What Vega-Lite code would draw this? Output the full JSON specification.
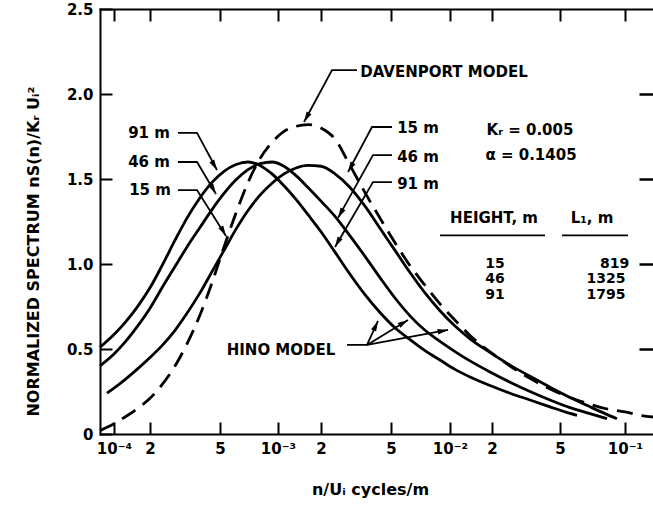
{
  "$schema": "https://vega.github.io/schema/vega-lite/v6.json",
  "width": 553,
  "height": 425,
  "autosize": {"type": "none"},
  "padding": {"left": 100, "top": 9, "right": 0, "bottom": 73},
  "background": "white",
  "config": {
    "view": {"stroke": null},
    "axis": {
      "grid": false, "domain": true, "domainColor": "black", "domainWidth": 2, "domainCap": "square",
      "tickColor": "black", "tickWidth": 2, "tickSize": -12,
      "labelFont": "DejaVu Sans", "labelFontWeight": "bold", "labelFontSize": 15, "labelColor": "black",
      "titleFont": "DejaVu Sans", "titleFontWeight": "bold", "titleFontSize": 16, "titleColor": "black",
      "labelOverlap": false, "labelFlush": false
    },
    "text": {"font": "DejaVu Sans", "fontWeight": "bold", "fontSize": 15, "fill": "black"}
  },
  "datasets": {
    "curves": [
      {"c": "91 m", "n": 8.45e-5, "s": 0.51}, {"c": "91 m", "n": 1e-4, "s": 0.585}, {"c": "91 m", "n": 1.236e-4, "s": 0.655}, {"c": "91 m", "n": 1.557e-4, "s": 0.745}, {"c": "91 m", "n": 2e-4, "s": 0.86}, {"c": "91 m", "n": 2.341e-4, "s": 0.99}, {"c": "91 m", "n": 2.775e-4, "s": 1.14}, {"c": "91 m", "n": 3.245e-4, "s": 1.27}, {"c": "91 m", "n": 3.848e-4, "s": 1.39}, {"c": "91 m", "n": 4.503e-4, "s": 1.48}, {"c": "91 m", "n": 5.245e-4, "s": 1.545}, {"c": "91 m", "n": 6.054e-4, "s": 1.585}, {"c": "91 m", "n": 6.989e-4, "s": 1.6}, {"c": "91 m", "n": 8.067e-4, "s": 1.58}, {"c": "91 m", "n": 9.308e-4, "s": 1.53}, {"c": "91 m", "n": 1.1015e-3, "s": 1.46}, {"c": "91 m", "n": 1.337e-3, "s": 1.38}, {"c": "91 m", "n": 1.622e-3, "s": 1.29}, {"c": "91 m", "n": 2e-3, "s": 1.19}, {"c": "91 m", "n": 2.403e-3, "s": 1.07}, {"c": "91 m", "n": 2.924e-3, "s": 0.94}, {"c": "91 m", "n": 3.557e-3, "s": 0.82}, {"c": "91 m", "n": 4.329e-3, "s": 0.715}, {"c": "91 m", "n": 5.241e-3, "s": 0.625}, {"c": "91 m", "n": 6.251e-3, "s": 0.555}, {"c": "91 m", "n": 7.455e-3, "s": 0.49}, {"c": "91 m", "n": 8.891e-3, "s": 0.435}, {"c": "91 m", "n": 1.086e-2, "s": 0.38}, {"c": "91 m", "n": 1.391e-2, "s": 0.335}, {"c": "91 m", "n": 1.935e-2, "s": 0.285}, {"c": "91 m", "n": 2.55e-2, "s": 0.24}, {"c": "91 m", "n": 3.337e-2, "s": 0.2}, {"c": "91 m", "n": 4.369e-2, "s": 0.16}, {"c": "91 m", "n": 5.274e-2, "s": 0.13}, {"c": "91 m", "n": 5.994e-2, "s": 0.11},
      {"c": "46 m", "n": 8.45e-5, "s": 0.4}, {"c": "46 m", "n": 1e-4, "s": 0.47}, {"c": "46 m", "n": 1.236e-4, "s": 0.54}, {"c": "46 m", "n": 1.557e-4, "s": 0.63}, {"c": "46 m", "n": 2e-4, "s": 0.74}, {"c": "46 m", "n": 2.341e-4, "s": 0.86}, {"c": "46 m", "n": 2.775e-4, "s": 0.985}, {"c": "46 m", "n": 3.245e-4, "s": 1.1}, {"c": "46 m", "n": 3.848e-4, "s": 1.215}, {"c": "46 m", "n": 4.503e-4, "s": 1.32}, {"c": "46 m", "n": 5.245e-4, "s": 1.415}, {"c": "46 m", "n": 6.054e-4, "s": 1.495}, {"c": "46 m", "n": 6.989e-4, "s": 1.555}, {"c": "46 m", "n": 8.067e-4, "s": 1.59}, {"c": "46 m", "n": 9.308e-4, "s": 1.6}, {"c": "46 m", "n": 1.1015e-3, "s": 1.575}, {"c": "46 m", "n": 1.337e-3, "s": 1.52}, {"c": "46 m", "n": 1.622e-3, "s": 1.45}, {"c": "46 m", "n": 2e-3, "s": 1.37}, {"c": "46 m", "n": 2.403e-3, "s": 1.28}, {"c": "46 m", "n": 2.924e-3, "s": 1.165}, {"c": "46 m", "n": 3.557e-3, "s": 1.045}, {"c": "46 m", "n": 4.329e-3, "s": 0.92}, {"c": "46 m", "n": 5.241e-3, "s": 0.8}, {"c": "46 m", "n": 6.251e-3, "s": 0.695}, {"c": "46 m", "n": 7.455e-3, "s": 0.61}, {"c": "46 m", "n": 8.891e-3, "s": 0.545}, {"c": "46 m", "n": 1.086e-2, "s": 0.485}, {"c": "46 m", "n": 1.391e-2, "s": 0.43}, {"c": "46 m", "n": 1.935e-2, "s": 0.365}, {"c": "46 m", "n": 2.55e-2, "s": 0.305}, {"c": "46 m", "n": 3.337e-2, "s": 0.25}, {"c": "46 m", "n": 4.369e-2, "s": 0.2}, {"c": "46 m", "n": 5.563e-2, "s": 0.155}, {"c": "46 m", "n": 6.885e-2, "s": 0.12}, {"c": "46 m", "n": 8.256e-2, "s": 0.09},
      {"c": "15 m", "n": 9.19e-5, "s": 0.24}, {"c": "15 m", "n": 1e-4, "s": 0.27}, {"c": "15 m", "n": 1.236e-4, "s": 0.32}, {"c": "15 m", "n": 1.557e-4, "s": 0.38}, {"c": "15 m", "n": 2e-4, "s": 0.45}, {"c": "15 m", "n": 2.341e-4, "s": 0.52}, {"c": "15 m", "n": 2.775e-4, "s": 0.61}, {"c": "15 m", "n": 3.245e-4, "s": 0.71}, {"c": "15 m", "n": 3.848e-4, "s": 0.83}, {"c": "15 m", "n": 4.503e-4, "s": 0.955}, {"c": "15 m", "n": 5.245e-4, "s": 1.08}, {"c": "15 m", "n": 6.054e-4, "s": 1.205}, {"c": "15 m", "n": 6.989e-4, "s": 1.315}, {"c": "15 m", "n": 8.067e-4, "s": 1.405}, {"c": "15 m", "n": 9.308e-4, "s": 1.475}, {"c": "15 m", "n": 1.1015e-3, "s": 1.53}, {"c": "15 m", "n": 1.337e-3, "s": 1.565}, {"c": "15 m", "n": 1.622e-3, "s": 1.58}, {"c": "15 m", "n": 2e-3, "s": 1.575}, {"c": "15 m", "n": 2.403e-3, "s": 1.53}, {"c": "15 m", "n": 2.924e-3, "s": 1.45}, {"c": "15 m", "n": 3.557e-3, "s": 1.34}, {"c": "15 m", "n": 4.329e-3, "s": 1.21}, {"c": "15 m", "n": 5.241e-3, "s": 1.08}, {"c": "15 m", "n": 6.251e-3, "s": 0.95}, {"c": "15 m", "n": 7.455e-3, "s": 0.83}, {"c": "15 m", "n": 8.891e-3, "s": 0.725}, {"c": "15 m", "n": 1.086e-2, "s": 0.635}, {"c": "15 m", "n": 1.391e-2, "s": 0.56}, {"c": "15 m", "n": 1.935e-2, "s": 0.48}, {"c": "15 m", "n": 2.55e-2, "s": 0.405}, {"c": "15 m", "n": 3.337e-2, "s": 0.34}, {"c": "15 m", "n": 4.369e-2, "s": 0.275}, {"c": "15 m", "n": 5.563e-2, "s": 0.215}, {"c": "15 m", "n": 6.885e-2, "s": 0.16}, {"c": "15 m", "n": 8.081e-2, "s": 0.12}, {"c": "15 m", "n": 9.183e-2, "s": 0.09},
      {"c": "Davenport", "n": 8.45e-5, "s": 0.02}, {"c": "Davenport", "n": 1e-4, "s": 0.06}, {"c": "Davenport", "n": 1.236e-4, "s": 0.1}, {"c": "Davenport", "n": 1.557e-4, "s": 0.148}, {"c": "Davenport", "n": 2e-4, "s": 0.21}, {"c": "Davenport", "n": 2.341e-4, "s": 0.29}, {"c": "Davenport", "n": 2.775e-4, "s": 0.4}, {"c": "Davenport", "n": 3.245e-4, "s": 0.53}, {"c": "Davenport", "n": 3.848e-4, "s": 0.7}, {"c": "Davenport", "n": 4.503e-4, "s": 0.89}, {"c": "Davenport", "n": 5.245e-4, "s": 1.1}, {"c": "Davenport", "n": 6.054e-4, "s": 1.3}, {"c": "Davenport", "n": 6.989e-4, "s": 1.48}, {"c": "Davenport", "n": 8.067e-4, "s": 1.62}, {"c": "Davenport", "n": 9.308e-4, "s": 1.715}, {"c": "Davenport", "n": 1.1015e-3, "s": 1.78}, {"c": "Davenport", "n": 1.337e-3, "s": 1.81}, {"c": "Davenport", "n": 1.622e-3, "s": 1.82}, {"c": "Davenport", "n": 2e-3, "s": 1.8}, {"c": "Davenport", "n": 2.403e-3, "s": 1.735}, {"c": "Davenport", "n": 2.924e-3, "s": 1.58}, {"c": "Davenport", "n": 3.557e-3, "s": 1.42}, {"c": "Davenport", "n": 4.329e-3, "s": 1.27}, {"c": "Davenport", "n": 5.241e-3, "s": 1.125}, {"c": "Davenport", "n": 6.251e-3, "s": 0.99}, {"c": "Davenport", "n": 7.455e-3, "s": 0.875}, {"c": "Davenport", "n": 8.891e-3, "s": 0.765}, {"c": "Davenport", "n": 1.086e-2, "s": 0.67}, {"c": "Davenport", "n": 1.391e-2, "s": 0.58}, {"c": "Davenport", "n": 1.935e-2, "s": 0.483}, {"c": "Davenport", "n": 2.55e-2, "s": 0.4}, {"c": "Davenport", "n": 3.337e-2, "s": 0.327}, {"c": "Davenport", "n": 4.369e-2, "s": 0.265}, {"c": "Davenport", "n": 5.563e-2, "s": 0.215}, {"c": "Davenport", "n": 6.885e-2, "s": 0.175}, {"c": "Davenport", "n": 8.081e-2, "s": 0.15}, {"c": "Davenport", "n": 0.1, "s": 0.13}, {"c": "Davenport", "n": 0.1293, "s": 0.11}, {"c": "Davenport", "n": 0.1614, "s": 0.1}
    ],
    "leaders": [
      {"id": "l91", "k": 1, "n": 2.884e-4, "s": 1.771}, {"id": "l91", "k": 2, "n": 3.701e-4, "s": 1.771}, {"id": "l91", "k": 3, "n": 4.808e-4, "s": 1.553},
      {"id": "l46", "k": 1, "n": 2.884e-4, "s": 1.6}, {"id": "l46", "k": 2, "n": 3.701e-4, "s": 1.6}, {"id": "l46", "k": 3, "n": 4.745e-4, "s": 1.412},
      {"id": "l15", "k": 1, "n": 2.884e-4, "s": 1.435}, {"id": "l15", "k": 2, "n": 3.701e-4, "s": 1.435}, {"id": "l15", "k": 3, "n": 5.372e-4, "s": 1.165},
      {"id": "r15", "k": 1, "n": 5.06e-3, "s": 1.806}, {"id": "r15", "k": 2, "n": 3.898e-3, "s": 1.806}, {"id": "r15", "k": 3, "n": 2.848e-3, "s": 1.541},
      {"id": "r46", "k": 1, "n": 5.06e-3, "s": 1.641}, {"id": "r46", "k": 2, "n": 3.95e-3, "s": 1.641}, {"id": "r46", "k": 3, "n": 2.499e-3, "s": 1.271},
      {"id": "r91", "k": 1, "n": 5.06e-3, "s": 1.482}, {"id": "r91", "k": 2, "n": 3.95e-3, "s": 1.482}, {"id": "r91", "k": 3, "n": 2.403e-3, "s": 1.1},
      {"id": "dav", "k": 1, "n": 3.203e-3, "s": 2.141}, {"id": "dav", "k": 2, "n": 2.31e-3, "s": 2.141}, {"id": "dav", "k": 3, "n": 1.521e-3, "s": 1.835},
      {"id": "h1", "k": 1, "n": 2.811e-3, "s": 0.524}, {"id": "h1", "k": 2, "n": 3.653e-3, "s": 0.524}, {"id": "h1", "k": 3, "n": 4.217e-3, "s": 0.665},
      {"id": "h2", "k": 1, "n": 3.653e-3, "s": 0.524}, {"id": "h2", "k": 2, "n": 6.105e-3, "s": 0.671},
      {"id": "h3", "k": 1, "n": 3.653e-3, "s": 0.524}, {"id": "h3", "k": 2, "n": 9.768e-3, "s": 0.612},
      {"id": "u1", "k": 1, "n": 8.891e-3, "s": 1.168}, {"id": "u1", "k": 2, "n": 4.085e-2, "s": 1.168},
      {"id": "u2", "k": 1, "n": 5.108e-2, "s": 1.168}, {"id": "u2", "k": 2, "n": 0.1053, "s": 1.168}
    ],
    "tips": [
      {"id": "l91", "n": 4.808e-4, "s": 1.553}, {"id": "l46", "n": 4.745e-4, "s": 1.412}, {"id": "l15", "n": 5.372e-4, "s": 1.165},
      {"id": "r15", "n": 2.848e-3, "s": 1.541}, {"id": "r46", "n": 2.499e-3, "s": 1.271}, {"id": "r91", "n": 2.403e-3, "s": 1.1}, {"id": "dav", "n": 1.521e-3, "s": 1.835},
      {"id": "h1", "n": 4.217e-3, "s": 0.665}, {"id": "h2", "n": 6.105e-3, "s": 0.671}, {"id": "h3", "n": 9.768e-3, "s": 0.612}
    ],
    "labels": [
      {"t": "91 m", "n": 1.962e-4, "s": 1.771}, {"t": "46 m", "n": 1.962e-4, "s": 1.6}, {"t": "15 m", "n": 2e-4, "s": 1.435},
      {"t": "15 m", "n": 6.867e-3, "s": 1.8}, {"t": "46 m", "n": 6.867e-3, "s": 1.629}, {"t": "91 m", "n": 6.867e-3, "s": 1.471},
      {"t": "DAVENPORT MODEL", "n": 9.319e-3, "s": 2.129},
      {"t": "Kᵣ = 0.005", "n": 3.337e-2, "s": 1.788}, {"t": "α = 0.1405", "n": 3.382e-2, "s": 1.641},
      {"t": "HEIGHT, m", "n": 2.055e-2, "s": 1.271}, {"t": "L₁, m", "n": 7.034e-2, "s": 1.271},
      {"t": "HINO MODEL", "n": 1.0495e-3, "s": 0.494}
    ],
    "table": [
      {"t": "15", "n": 2.083e-2, "s": 1.0}, {"t": "46", "n": 2.083e-2, "s": 0.909}, {"t": "91", "n": 2.083e-2, "s": 0.818},
      {"t": "819", "n": 8.941e-2, "s": 1.0}, {"t": "1325", "n": 8.168e-2, "s": 0.909}, {"t": "1795", "n": 8.168e-2, "s": 0.818}
    ]
  },
  "encoding": {
    "x": {"field": "n", "type": "quantitative", "axis": null,
      "scale": {"type": "log", "domain": [8.45e-5, 1e-4, 2e-4, 5e-4, 1e-3, 2e-3, 5e-3, 1e-2, 2e-2, 5e-2, 1e-1, 0.1614], "range": [0, 14, 50, 120, 178, 221, 291, 350, 392, 460, 525, 553], "nice": false}},
    "y": {"field": "s", "type": "quantitative", "axis": null, "scale": {"domain": [0, 2.5], "nice": false, "zero": false}}
  },
  "resolve": {"axis": {"x": "independent", "y": "independent"}},
  "layer": [
    {
      "data": {"name": "curves"},
      "transform": [{"filter": "datum.c != 'Davenport'"}],
      "mark": {"type": "line", "stroke": "black", "strokeWidth": 2.8, "interpolate": "monotone"},
      "encoding": {
        "x": {"field": "n", "type": "quantitative",
          "scale": {"type": "log", "domain": [8.45e-5, 1e-4, 2e-4, 5e-4, 1e-3, 2e-3, 5e-3, 1e-2, 2e-2, 5e-2, 1e-1, 0.1614], "range": [0, 14, 50, 120, 178, 221, 291, 350, 392, 460, 525, 553], "nice": false},
          "axis": {"orient": "bottom", "values": [1e-4, 2e-4, 5e-4, 1e-3, 2e-3, 5e-3, 1e-2, 2e-2, 5e-2, 1e-1],
            "labelExpr": "format(datum.value,'.0e') == '1e-4' ? '10⁻⁴' : format(datum.value,'.0e') == '1e-3' ? '10⁻³' : format(datum.value,'.0e') == '1e-2' ? '10⁻²' : format(datum.value,'.0e') == '1e-1' ? '10⁻¹' : slice(format(datum.value,'.0e'),0,1)",
            "labelPadding": 19, "title": "n/Uᵢ  cycles/m", "titleX": 270, "titleY": 55, "titleBaseline": "middle"}},
        "y": {"field": "s", "type": "quantitative", "scale": {"domain": [0, 2.5], "nice": false, "zero": false},
          "axis": {"orient": "left", "values": [0, 0.5, 1, 1.5, 2, 2.5],
            "labelExpr": "datum.value == 0 ? '0' : format(datum.value, '.1f')",
            "labelPadding": 19, "title": "NORMALIZED SPECTRUM nS(n)/Kᵣ Uᵢ²", "titleX": -67, "titleY": 242, "titleBaseline": "middle"}},
        "detail": {"field": "c"}
      }
    },
    {
      "data": {"name": "curves"},
      "transform": [{"filter": "datum.c == 'Davenport'"}],
      "mark": {"type": "line", "stroke": "black", "strokeWidth": 2.8, "strokeDash": [16, 9], "interpolate": "monotone"},
      "encoding": {
        "x": {"field": "n", "type": "quantitative",
          "scale": {"type": "log", "domain": [8.45e-5, 1e-4, 2e-4, 5e-4, 1e-3, 2e-3, 5e-3, 1e-2, 2e-2, 5e-2, 1e-1, 0.1614], "range": [0, 14, 50, 120, 178, 221, 291, 350, 392, 460, 525, 553], "nice": false},
          "axis": {"orient": "top", "values": [1e-4, 2e-4, 5e-4, 1e-3, 2e-3, 5e-3, 1e-2, 2e-2, 5e-2, 1e-1], "labels": false, "title": null}},
        "y": {"field": "s", "type": "quantitative", "scale": {"domain": [0, 2.5], "nice": false, "zero": false},
          "axis": {"orient": "right", "values": [0.5, 1, 1.5, 2], "labels": false, "title": null, "domain": false, "ticks": true, "tickSize": -14, "tickWidth": 2.5, "tickColor": "black", "zindex": 2}}
      }
    },
    {
      "data": {"name": "leaders"},
      "mark": {"type": "line", "stroke": "black", "strokeWidth": 1.8},
      "encoding": {"detail": {"field": "id"}, "order": {"field": "k", "type": "quantitative"}}
    },
    {
      "data": {"name": "tips"},
      "transform": [{"filter": {"field": "id", "oneOf": ["l91", "l46", "l15"]}}],
      "mark": {"type": "point", "shape": "M0,0L0.7,2.6L-0.7,2.6Z", "filled": true, "color": "black", "size": 64, "angle": 150, "opacity": 1}
    },
    {
      "data": {"name": "tips"},
      "transform": [{"filter": {"field": "id", "oneOf": ["r15", "r46", "r91", "dav"]}}],
      "mark": {"type": "point", "shape": "M0,0L0.7,2.6L-0.7,2.6Z", "filled": true, "color": "black", "size": 64, "angle": 209, "opacity": 1}
    },
    {
      "data": {"name": "tips"},
      "transform": [{"filter": "datum.id == 'h1'"}],
      "mark": {"type": "point", "shape": "M0,0L0.7,2.6L-0.7,2.6Z", "filled": true, "color": "black", "size": 64, "angle": 25, "opacity": 1}
    },
    {
      "data": {"name": "tips"},
      "transform": [{"filter": "datum.id == 'h2'"}],
      "mark": {"type": "point", "shape": "M0,0L0.7,2.6L-0.7,2.6Z", "filled": true, "color": "black", "size": 64, "angle": 59, "opacity": 1}
    },
    {
      "data": {"name": "tips"},
      "transform": [{"filter": "datum.id == 'h3'"}],
      "mark": {"type": "point", "shape": "M0,0L0.7,2.6L-0.7,2.6Z", "filled": true, "color": "black", "size": 64, "angle": 80, "opacity": 1}
    },
    {
      "data": {"name": "labels"},
      "mark": {"type": "text", "align": "center", "baseline": "middle"},
      "encoding": {"text": {"field": "t"}}
    },
    {
      "data": {"name": "table"},
      "mark": {"type": "text", "align": "center", "baseline": "middle", "fontSize": 14},
      "encoding": {"text": {"field": "t"}}
    }
  ]
}
